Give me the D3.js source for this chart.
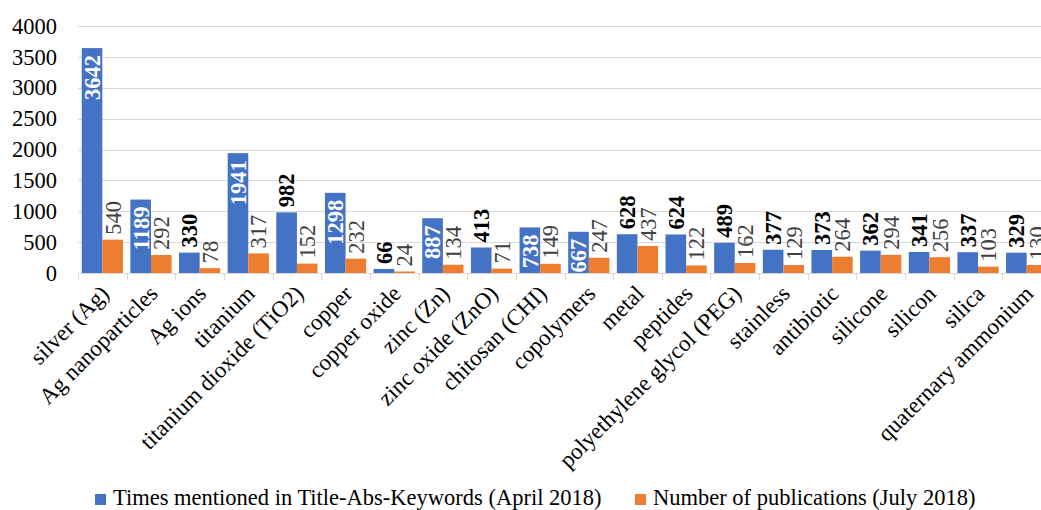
<!DOCTYPE html>
<html>
<head lang="en">
    <meta charset="UTF-8">
    <script type="text/javascript" src="https://cdn.jsdelivr.net/npm/d3@7/dist/d3.min.js"></script>
    <title></title>
</head>
<body style="margin:0;background:#fff;">
<style>
    svg text{ font-family: "Liberation Serif", "Times New Roman", serif; }
</style>
<script type="text/javascript">
    // data
    var categories = ["silver (Ag)", "Ag nanoparticles", "Ag ions", "titanium", "titanium dioxide (TiO2)",
        "copper", "copper oxide", "zinc (Zn)", "zinc oxide (ZnO)", "chitosan (CHI)", "copolymers", "metal",
        "peptides", "polyethylene glycol (PEG)", "stainless", "antibiotic", "silicone", "silicon", "silica",
        "quaternary ammonium"];
    var mentions = [3642, 1189, 330, 1941, 982, 1298, 66, 887, 413, 738, 667, 628, 624, 489, 377, 373, 362, 341, 337, 329];
    var publications = [540, 292, 78, 317, 152, 232, 24, 134, 71, 149, 247, 437, 122, 162, 129, 264, 294, 256, 103, 130];
    // which blue labels sit inside the bar (white)
    var labelInside = [true, true, false, true, false, true, false, true, false, true, true, false, false, false, false, false, false, false, false, false];
    var yTicks = [0, 500, 1000, 1500, 2000, 2500, 3000, 3500, 4000];
    var seriesNames = ["Times mentioned in Title-Abs-Keywords (April 2018)", "Number of publications (July 2018)"];
    var colors = ["#4472C4", "#ED7D31"];

    var w = 1041, h = 510;
    var svg = d3.select("body").append("svg")
        .attr("width", w)
        .attr("height", h)
        .attr("font-family", "Liberation Serif");

    var x0 = d3.scaleBand().domain(categories).range([78, 78 + 20 * 48.65]).padding(0);
    var x1 = d3.scaleBand().domain([0, 1]).range([0, x0.bandwidth()]).paddingInner(0).paddingOuter(0.18);
    var y = d3.scaleLinear().domain([0, 4000]).range([273, 26]);

    // gridlines
    svg.append("g").selectAll("line")
        .data(yTicks.slice(1))
        .enter().append("line")
        .attr("x1", 78).attr("x2", w)
        .attr("y1", function(d){ return Math.round(y(d)) + 0.5; })
        .attr("y2", function(d){ return Math.round(y(d)) + 0.5; })
        .attr("stroke", "#d9d9d9").attr("stroke-width", 1);

    // y axis labels
    var yAxis = d3.axisLeft(y).tickValues(yTicks).tickSize(0).tickPadding(21).tickFormat(d3.format("d"));
    var gy = svg.append("g").attr("transform", "translate(78,0)").call(yAxis);
    gy.attr("font-family", "Liberation Serif");
    gy.select(".domain").remove();
    gy.selectAll("text").attr("font-size", "22.5px").attr("fill", "#000");

    // bars
    var groups = svg.append("g").selectAll("g")
        .data(categories)
        .enter().append("g")
        .attr("transform", function(d){ return "translate(" + x0(d) + ",0)"; });

    groups.append("rect")
        .attr("x", x1(0)).attr("width", x1.bandwidth())
        .attr("y", function(d, i){ return y(mentions[i]); })
        .attr("height", function(d, i){ return y(0) - y(mentions[i]); })
        .attr("fill", colors[0]);
    groups.append("rect")
        .attr("x", x1(1)).attr("width", x1.bandwidth())
        .attr("y", function(d, i){ return y(publications[i]); })
        .attr("height", function(d, i){ return y(0) - y(publications[i]); })
        .attr("fill", colors[1]);

    // x axis line + ticks
    var xAxis = d3.axisBottom(x0).tickSize(0).tickFormat("");
    var gx = svg.append("g").attr("transform", "translate(0,273.5)").call(xAxis);
    gx.select(".domain").attr("stroke", "#d9d9d9").attr("d", "M78,0H" + w);
    svg.append("g").selectAll("line")
        .data(categories.concat(["end"]))
        .enter().append("line")
        .attr("x1", function(d, i){ return Math.round(x0.range()[0] + i * x0.step()) + 0.5; })
        .attr("x2", function(d, i){ return Math.round(x0.range()[0] + i * x0.step()) + 0.5; })
        .attr("y1", 273).attr("y2", 280)
        .attr("stroke", "#d9d9d9");

    // data labels
    groups.append("text")
        .attr("transform", function(d, i){
            var cx = x1(0) + x1.bandwidth() / 2;
            var yy = labelInside[i] ? y(mentions[i]) + 7 : y(mentions[i]) - 5;
            return "translate(" + cx + "," + yy + ") rotate(-90)";
        })
        .attr("dy", "0.35em")
        .attr("text-anchor", function(d, i){ return labelInside[i] ? "end" : "start"; })
        .attr("font-size", "22.5px").attr("font-weight", "bold")
        .attr("fill", function(d, i){ return labelInside[i] ? "#fff" : "#000"; })
        .text(function(d, i){ return mentions[i]; });
    groups.append("text")
        .attr("transform", function(d, i){
            var cx = x1(1) + x1.bandwidth() / 2;
            return "translate(" + cx + "," + (y(publications[i]) - 5) + ") rotate(-90)";
        })
        .attr("dy", "0.35em")
        .attr("text-anchor", "start")
        .attr("font-size", "22.5px")
        .attr("fill", "#404040")
        .text(function(d, i){ return publications[i]; });

    // category labels
    svg.append("g").selectAll("text")
        .data(categories)
        .enter().append("text")
        .attr("transform", function(d){
            return "translate(" + (x0(d) + x0.bandwidth() / 2 + 8) + ",295) rotate(-45)";
        })
        .attr("text-anchor", "end")
        .attr("font-size", "23px").attr("fill", "#000")
        .text(function(d){ return d; });

    // legend
    var legendX = [95, 635];
    var legend = svg.append("g").selectAll("g")
        .data(seriesNames)
        .enter().append("g")
        .attr("transform", function(d, i){ return "translate(" + legendX[i] + ",494)"; });
    legend.append("rect").attr("width", 11).attr("height", 11)
        .attr("fill", function(d, i){ return colors[i]; });
    legend.append("text").attr("x", 18).attr("y", 11)
        .attr("font-size", "22.5px").attr("fill", "#000")
        .text(function(d){ return d; });
</script>
</body>
</html>
